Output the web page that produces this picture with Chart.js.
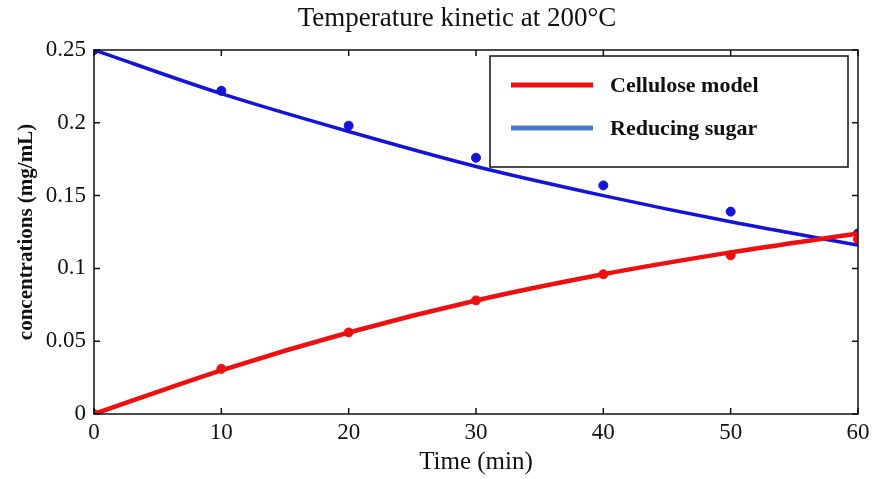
<!DOCTYPE html>
<html>
<head>
<meta charset="utf-8">
<script src="https://cdn.jsdelivr.net/npm/chart.js@4/dist/chart.umd.min.js"></script>
<style>
  html, body { margin: 0; padding: 0; background: #fff; }
  #wrap { width: 882px; height: 479px; }
</style>
</head>
<body>
<div id="wrap"><canvas id="kinetic"></canvas></div>
<script>
// Data
const timeMin = [0, 10, 20, 30, 40, 50, 60];
const cellModel = [0, 0.030, 0.056, 0.078, 0.096, 0.111, 0.124];
const cellObs = [0, 0.031, 0.056, 0.078, 0.096, 0.109, 0.120];
const sugarModel = [0.25, 0.220, 0.194, 0.170, 0.150, 0.132, 0.116];
const sugarObs = [0.25, 0.222, 0.198, 0.176, 0.157, 0.139, 0.124];
const xTicks = [0, 10, 20, 30, 40, 50, 60];
const yTicks = [0, 0.05, 0.1, 0.15, 0.2, 0.25];

const SERIF = "'Liberation Serif', 'Times New Roman', serif";
const RED = '#ee1010';
const BLUE = '#1414d8';

function pairs(xs, ys) {
    return xs.map((x, i) => ({ x: x, y: ys[i] }));
}

// Title, box around plot with inward ticks on all four sides, plus the legend box
const frameAndLegend = {
    id: 'frameAndLegend',
    afterDraw(chart) {
        const ctx = chart.ctx;
        const a = chart.chartArea;
        const xs = chart.scales.x, ys = chart.scales.y;
        ctx.save();
        ctx.fillStyle = '#111';
        ctx.font = '27px ' + SERIF;
        ctx.textAlign = 'center';
        ctx.textBaseline = 'middle';
        ctx.fillText('Temperature kinetic at 200°C', 457, 19);

        ctx.strokeStyle = '#111';
        ctx.lineWidth = 1.5;
        ctx.strokeRect(a.left, a.top, a.right - a.left, a.bottom - a.top);
        ctx.beginPath();
        xTicks.forEach(v => {
            const px = xs.getPixelForValue(v);
            ctx.moveTo(px, a.bottom); ctx.lineTo(px, a.bottom - 6);
            ctx.moveTo(px, a.top); ctx.lineTo(px, a.top + 6);
        });
        yTicks.forEach(v => {
            const py = ys.getPixelForValue(v);
            ctx.moveTo(a.left, py); ctx.lineTo(a.left + 6, py);
            ctx.moveTo(a.right, py); ctx.lineTo(a.right - 6, py);
        });
        ctx.stroke();

        // legend
        const lx = a.left + 396, ly = a.top + 6, lw = 358, lh = 111;
        ctx.fillStyle = '#fff';
        ctx.fillRect(lx, ly, lw, lh);
        ctx.lineWidth = 1.5;
        ctx.strokeRect(lx, ly, lw, lh);
        const items = [
            { text: 'Cellulose model', color: RED },
            { text: 'Reducing sugar', color: '#4a7acc' }
        ];
        ctx.font = 'bold 22px ' + SERIF;
        ctx.textAlign = 'left';
        ctx.textBaseline = 'middle';
        items.forEach((it, i) => {
            const y = ly + 29 + i * 43;
            ctx.strokeStyle = it.color;
            ctx.lineWidth = 5;
            ctx.beginPath();
            ctx.moveTo(lx + 21, y); ctx.lineTo(lx + 103, y);
            ctx.stroke();
            ctx.fillStyle = '#111';
            ctx.fillText(it.text, lx + 120, y + 1);
        });
        ctx.restore();
    }
};

new Chart(document.getElementById('kinetic'), {
    type: 'line',
    data: {
        datasets: [
            {
                label: 'Cellulose model',
                data: pairs(timeMin, cellModel),
                borderColor: RED,
                borderWidth: 4.5,
                pointRadius: 0,
                tension: 0.4,
                cubicInterpolationMode: 'monotone'
            },
            {
                label: 'Cellulose data',
                data: pairs(timeMin, cellObs),
                showLine: false,
                pointRadius: 4.5,
                pointBackgroundColor: RED,
                pointBorderColor: RED
            },
            {
                label: 'Reducing sugar',
                data: pairs(timeMin, sugarModel),
                borderColor: BLUE,
                borderWidth: 3.5,
                pointRadius: 0,
                tension: 0.4,
                cubicInterpolationMode: 'monotone'
            },
            {
                label: 'Reducing sugar data',
                data: pairs(timeMin, sugarObs),
                showLine: false,
                pointRadius: 4.5,
                pointBackgroundColor: BLUE,
                pointBorderColor: BLUE
            }
        ]
    },
    options: {
        responsive: true,
        maintainAspectRatio: false,
        animation: false,
        layout: { padding: { top: 50, right: 24, bottom: 0, left: 0 } },
        plugins: {
            legend: { display: false },
            tooltip: { enabled: false },
            title: { display: false }
        },
        scales: {
            x: {
                type: 'linear',
                min: 0,
                max: 60,
                afterBuildTicks: s => { s.ticks = xTicks.map(v => ({ value: v })); },
                afterFit: s => { s.height = 65; },
                grid: { display: false, drawTicks: false },
                border: { display: false },
                ticks: {
                    color: '#111',
                    padding: 5,
                    font: { family: SERIF, size: 23 }
                },
                title: {
                    display: true,
                    text: 'Time (min)',
                    color: '#111',
                    font: { family: SERIF, size: 25 },
                    padding: { top: 0, bottom: 2 }
                }
            },
            y: {
                type: 'linear',
                min: 0,
                max: 0.25,
                afterBuildTicks: s => { s.ticks = yTicks.map(v => ({ value: v })); },
                afterFit: s => { s.width = 94; },
                grid: { display: false, drawTicks: false },
                border: { display: false },
                ticks: {
                    color: '#111',
                    padding: 8,
                    font: { family: SERIF, size: 23 },
                    callback: v => String(v)
                },
                title: {
                    display: true,
                    text: 'concentrations (mg/mL)',
                    color: '#111',
                    font: { family: SERIF, size: 21, weight: 'bold' },
                    padding: { top: 14, bottom: 2 }
                }
            }
        }
    },
    plugins: [frameAndLegend]
});
</script>
</body>
</html>
